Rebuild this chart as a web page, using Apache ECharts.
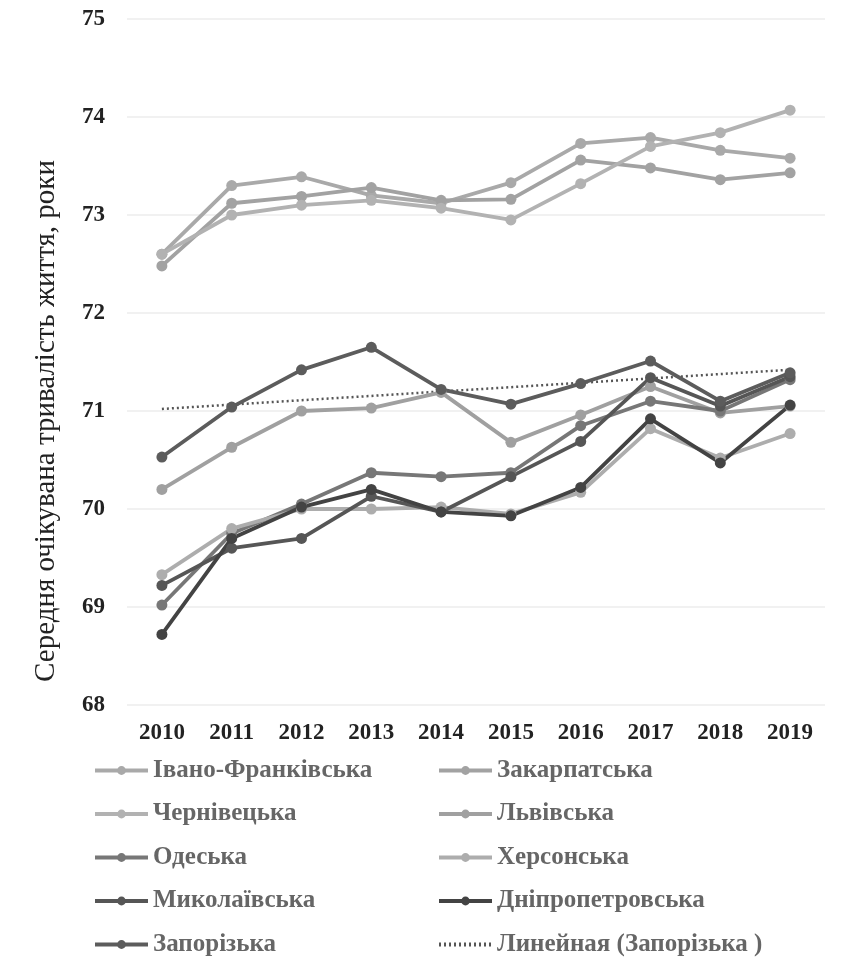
<!DOCTYPE html>
<html><head><meta charset="utf-8">
<script src="https://cdn.jsdelivr.net/npm/echarts@6/dist/echarts.min.js"></script>
<style>html,body{margin:0;padding:0;background:#fff}#c{width:846px;height:977px}</style>
</head><body><div id="c"></div>
<script>
const years = ['2010','2011','2012','2013','2014','2015','2016','2017','2018','2019'];
const ivanoFrankivska = [72.6, 73.3, 73.39, 73.2, 73.12, 73.33, 73.73, 73.79, 73.66, 73.58];
const zakarpatska     = [72.48, 73.12, 73.19, 73.28, 73.15, 73.16, 73.56, 73.48, 73.36, 73.43];
const chernivetska    = [72.6, 73.0, 73.1, 73.15, 73.07, 72.95, 73.32, 73.7, 73.84, 74.07];
const lvivska         = [70.2, 70.63, 71.0, 71.03, 71.19, 70.68, 70.96, 71.25, 70.98, 71.05];
const odeska          = [69.02, 69.75, 70.05, 70.37, 70.33, 70.37, 70.85, 71.1, 71.0, 71.32];
const khersonska      = [69.33, 69.8, 70.0, 70.0, 70.02, 69.95, 70.17, 70.82, 70.52, 70.77];
const mykolaivska     = [69.22, 69.6, 69.7, 70.13, 69.97, 70.33, 70.69, 71.34, 71.05, 71.35];
const dnipropetrovska = [68.72, 69.7, 70.02, 70.2, 69.97, 69.93, 70.22, 70.92, 70.47, 71.06];
const zaporizka       = [70.53, 71.04, 71.42, 71.65, 71.22, 71.07, 71.28, 71.51, 71.1, 71.39];
const yTicks = [68, 69, 70, 71, 72, 73, 74, 75];

// linear trend of Запорізька (least squares)
const n = zaporizka.length;
const mx = (n - 1) / 2;
const my = zaporizka.reduce((a, b) => a + b, 0) / n;
let sxy = 0, sxx = 0;
zaporizka.forEach((v, i) => { sxy += (i - mx) * (v - my); sxx += (i - mx) * (i - mx); });
const slope = sxy / sxx;
const trend = zaporizka.map((v, i) => +(my + slope * (i - mx)).toFixed(3));

const F = 'Liberation Serif, Times New Roman, serif';
function s(name, data, color) {
  return { name, type: 'line', data, symbol: 'circle', symbolSize: 11,
    lineStyle: { width: 3.8, color }, itemStyle: { color }, z: 3 };
}
const TREND = 'Линейная (Запорізька )';
const series = [
  s('Івано-Франківська', ivanoFrankivska, '#a9a9a9'),
  s('Закарпатська', zakarpatska, '#a2a2a2'),
  s('Чернівецька', chernivetska, '#b2b2b2'),
  s('Львівська', lvivska, '#a0a0a0'),
  s('Одеська', odeska, '#777777'),
  s('Херсонська', khersonska, '#adadad'),
  s('Миколаївська', mykolaivska, '#565656'),
  s('Дніпропетровська', dnipropetrovska, '#434343'),
  s('Запорізька', zaporizka, '#5c5c5c'),
  { name: TREND, type: 'line', data: trend, symbol: 'none',
    lineStyle: { width: 2.5, type: [2, 3], color: '#555555' }, itemStyle: { color: '#555555' }, z: 2 }
];
const legendText = { fontFamily: F, fontWeight: 'bold', fontSize: 25, color: '#666666' };
const legendCommon = { orient: 'vertical', top: 753, itemGap: 18.5, itemWidth: 53, itemHeight: 11,
  lineStyle: { width: 4 }, textStyle: legendText };
const chart = echarts.init(document.getElementById('c'));
chart.setOption({
  animation: false,
  backgroundColor: '#ffffff',
  grid: { left: 127, right: 21, top: 19, bottom: 272 },
  xAxis: { type: 'category', data: years, boundaryGap: true,
    axisLine: { show: false }, axisTick: { show: false },
    axisLabel: { fontFamily: F, fontWeight: 'bold', fontSize: 23, color: '#222', margin: 17 } },
  yAxis: { type: 'value', min: yTicks[0], max: yTicks[yTicks.length - 1], interval: 1,
    name: 'Середня очікувана тривалість життя, роки', nameLocation: 'middle', nameGap: 66,
    nameTextStyle: { fontFamily: F, fontSize: 29, color: '#222', padding: [0, 118, 0, 0] },
    axisLine: { show: false }, axisTick: { show: false },
    axisLabel: { fontFamily: F, fontWeight: 'bold', fontSize: 23, color: '#222', margin: 22 },
    splitLine: { lineStyle: { color: '#ececec', width: 1.5 } } },
  legend: [
    Object.assign({ left: 88,
      data: ['Івано-Франківська', 'Чернівецька', 'Одеська', 'Миколаївська', 'Запорізька'] }, legendCommon),
    Object.assign({ left: 432,
      data: ['Закарпатська', 'Львівська', 'Херсонська', 'Дніпропетровська',
             { name: TREND, itemStyle: { opacity: 0 } }] }, legendCommon)
  ],
  series
});
</script></body></html>
